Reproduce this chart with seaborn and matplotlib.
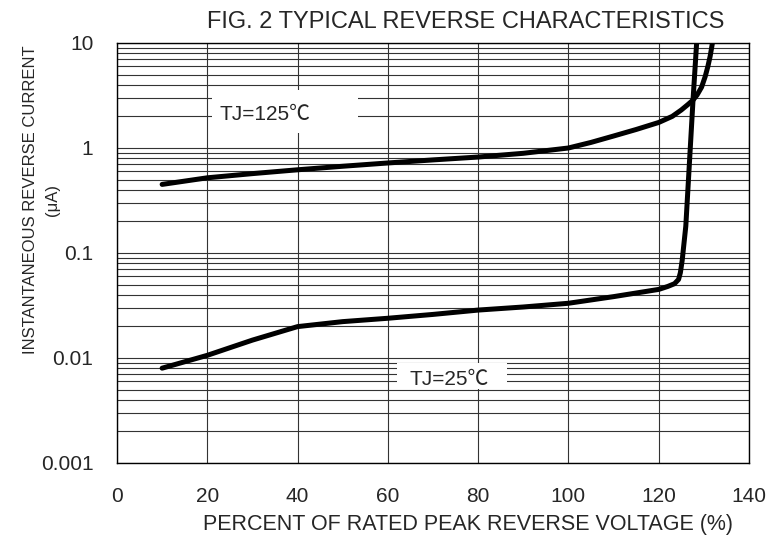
import matplotlib
matplotlib.use("Agg")
import matplotlib.pyplot as plt
import matplotlib.ticker as mticker
from matplotlib.patches import Rectangle
import seaborn as sns
import pandas as pd

# reverse current curves
x_125 = [10, 20, 30, 40, 50, 60, 70, 80, 90, 100, 105, 110, 115, 120, 123, 125, 126.5, 127.6,
         128.5, 129.5, 130.3, 130.9, 131.4, 131.9, 132.3]
y_125 = [0.45, 0.52, 0.57, 0.62, 0.67, 0.72, 0.77, 0.82, 0.89, 1.0, 1.13, 1.3, 1.5, 1.75, 2.0, 2.3, 2.6, 2.86,
         3.2, 3.8, 4.8, 6.0, 7.5, 10, 12]

x_25 = [10, 20, 30, 40, 50, 60, 70, 80, 90, 100, 110, 120, 122, 123.5, 124.4, 124.8, 125.2, 126, 127.6, 128.4, 129]
y_25 = [0.008, 0.0106, 0.0148, 0.0199, 0.0222, 0.0239, 0.026, 0.0286, 0.0306, 0.0332, 0.0384, 0.045,
        0.048, 0.051, 0.056, 0.065, 0.085, 0.18, 2.86, 10, 15]

x_ticks = [0, 20, 40, 60, 80, 100, 120, 140]
y_ticks = [0.001, 0.01, 0.1, 1, 10]
y_tick_labels = ["0.001", "0.01", "0.1", "1", "10"]

sns.set_style("white")
plt.rcParams['font.family'] = ['Liberation Sans', 'Noto Sans CJK SC', 'DejaVu Sans']

fig = plt.figure(figsize=(7.82, 5.4), dpi=100)
ax = fig.add_axes([0.1496, 0.1426, 0.8082, 0.7778])

df = pd.concat([
    pd.DataFrame({"v": x_125, "i": y_125, "t": "125"}),
    pd.DataFrame({"v": x_25, "i": y_25, "t": "25"}),
])
for t, sub in df.groupby("t"):
    sns.lineplot(data=sub, x="v", y="i", sort=False, ax=ax, color="black",
                 lw=3.6, solid_capstyle="round", solid_joinstyle="round", zorder=5, estimator=None)

ax.set_yscale("log")
ax.set_xlim(0, 140)
ax.set_ylim(0.001, 10)
ax.set_xticks(x_ticks)
ax.set_yticks(y_ticks)
ax.set_yticklabels(y_tick_labels)
ax.yaxis.set_minor_locator(mticker.LogLocator(base=10, subs=range(2, 10)))
ax.yaxis.set_minor_formatter(mticker.NullFormatter())
ax.tick_params(which="both", length=0, labelsize=15)
ax.tick_params(axis="x", pad=17)
ax.tick_params(axis="y", pad=17)
ax.grid(True, which="both", color="#333333", lw=0.8)
ax.grid(False, which="minor", axis="x")
for s in ax.spines.values():
    s.set_color("black")
    s.set_linewidth(1.0)
ax.set_xlabel("")
ax.set_ylabel("")

# white label boxes over the grid
ax.add_patch(Rectangle((21.0, 1.4), 32.4, 2.2, facecolor="white", edgecolor="none", zorder=3))
ax.add_patch(Rectangle((62.0, 0.00507), 24.4, 0.00389, facecolor="white", edgecolor="none", zorder=3))
ax.text(22.8, 2.1, "TJ=125℃", fontsize=15, va="center", ha="left", zorder=4)
ax.text(64.7, 0.0062, "TJ=25℃", fontsize=15, va="center", ha="left", zorder=4)

fig.text(0.598, 0.028, "PERCENT OF RATED PEAK REVERSE VOLTAGE (%)", ha="center", va="center", fontsize=15.5)
fig.text(0.053, 0.63, "INSTANTANEOUS REVERSE CURRENT\n(μA)", rotation=90, ha="center",
         va="center", multialignment="center", fontsize=12, linespacing=1.55)
fig.text(0.595, 0.96, "FIG. 2 TYPICAL REVERSE CHARACTERISTICS", ha="center", va="center", fontsize=17)

fig.savefig("out.png", dpi=100)
